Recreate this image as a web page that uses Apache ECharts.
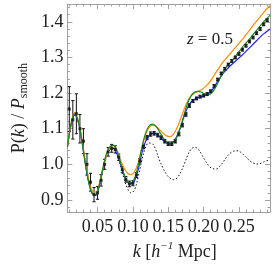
<!DOCTYPE html>
<html><head><meta charset="utf-8">
<script src="https://cdn.jsdelivr.net/npm/echarts@6/dist/echarts.min.js"></script>
<style>html,body{margin:0;padding:0;background:#fff}#c{width:274px;height:268px}</style>
</head><body><div id="c"></div>
<script>
// ---- data ----
const curveK = [0.0075,0.0125,0.0175,0.0225,0.0275,0.0325,0.0375,0.0425,0.0475,0.0525,0.0575,0.0625,0.0675,0.0725,0.0775,0.0825,0.0875,0.0925,0.0975,0.1025,0.1075,0.1125,0.1175,0.1225,0.1275,0.1325,0.1375,0.1425,0.1475,0.1525,0.1575,0.1625,0.1675,0.1725,0.1775,0.1825,0.1875,0.1925,0.1975,0.2025,0.2075,0.2125,0.2175,0.2225,0.2275,0.2325,0.2375,0.2425,0.2475,0.2525,0.2575,0.2625,0.2675,0.2725,0.2775,0.2825,0.2875,0.294];
const blueV = [1.05,1.11,1.138,1.12,1.07,1.005,0.95,0.918,0.913,0.94,0.985,1.025,1.043,1.045,1.03,1.0,0.97,0.95,0.945,0.955,0.985,1.03,1.062,1.08,1.087,1.086,1.078,1.068,1.06,1.057,1.063,1.08,1.105,1.135,1.16,1.175,1.183,1.187,1.19,1.194,1.2,1.21,1.225,1.24,1.255,1.266,1.276,1.285,1.294,1.303,1.312,1.322,1.332,1.342,1.352,1.362,1.37,1.38];
const greenV = [1.05,1.115,1.142,1.122,1.07,1.005,0.95,0.918,0.915,0.943,0.99,1.03,1.05,1.053,1.038,1.005,0.972,0.952,0.948,0.962,0.997,1.045,1.085,1.107,1.113,1.107,1.092,1.075,1.063,1.058,1.062,1.078,1.105,1.14,1.172,1.193,1.203,1.205,1.202,1.197,1.196,1.203,1.218,1.238,1.26,1.275,1.285,1.297,1.31,1.322,1.335,1.346,1.358,1.37,1.382,1.394,1.405,1.418];
const orangeV = [1.05,1.115,1.145,1.125,1.075,1.01,0.957,0.925,0.922,0.945,0.988,1.025,1.045,1.048,1.037,1.012,0.99,0.975,0.971,0.98,1.005,1.045,1.08,1.102,1.11,1.107,1.098,1.088,1.08,1.078,1.085,1.103,1.128,1.155,1.178,1.193,1.2,1.205,1.21,1.218,1.228,1.242,1.258,1.273,1.287,1.299,1.31,1.322,1.333,1.345,1.357,1.37,1.383,1.396,1.408,1.42,1.432,1.445];
const dottedV = [1.05,1.11,1.138,1.12,1.07,1.005,0.95,0.918,0.913,0.94,0.985,1.025,1.043,1.043,1.025,0.995,0.96,0.932,0.92,0.93,0.965,1.01,1.045,1.06,1.058,1.04,1.012,0.99,0.972,0.961,0.957,0.962,0.978,1.0,1.025,1.043,1.048,1.042,1.027,1.01,0.996,0.988,0.987,0.994,1.006,1.02,1.031,1.037,1.038,1.034,1.025,1.015,1.007,1.002,1.001,1.004,1.009,1.012];
const dataK = [0.01,0.015,0.02,0.025,0.03,0.035,0.04,0.045,0.05,0.055,0.06,0.065,0.07,0.075,0.08,0.085,0.09,0.095,0.1,0.105,0.11,0.115,0.12,0.125,0.13,0.135,0.14,0.145,0.15,0.155,0.16,0.165,0.17,0.175,0.18,0.185,0.19,0.195,0.2,0.205,0.21,0.215,0.22,0.225,0.23,0.235,0.24,0.245,0.25,0.255,0.26,0.265,0.27,0.275,0.28,0.285,0.29];
const dataV = [1.155,1.125,1.142,1.1,1.065,1.0,0.95,0.915,0.92,0.955,1.0,1.035,1.045,1.042,1.02,0.985,0.958,0.945,0.947,0.97,1.01,1.05,1.075,1.085,1.087,1.082,1.075,1.065,1.058,1.058,1.065,1.085,1.11,1.14,1.165,1.178,1.185,1.19,1.193,1.197,1.205,1.22,1.238,1.255,1.268,1.28,1.29,1.3,1.31,1.322,1.333,1.345,1.356,1.368,1.38,1.393,1.405];
const dataErr = [0.063,0.054,0.056,0.04,0.035,0.03,0.025,0.02,0.018,0.016,0.014,0.012,0.011,0.01,0.009,0.009,0.008,0.008,0.007,0.007,0.006,0.006,0.006,0.006,0.005,0.005,0.005,0.005,0.005,0.005,0.005,0.005,0.005,0.005,0.005,0.004,0.004,0.004,0.004,0.004,0.004,0.004,0.004,0.004,0.004,0.004,0.004,0.004,0.004,0.004,0.004,0.004,0.004,0.004,0.004,0.004,0.004];
const xMajor = [0.05,0.10,0.15,0.20,0.25];
const xMinor = [0.01,0.02,0.03,0.04,0.06,0.07,0.08,0.09,0.11,0.12,0.13,0.14,0.16,0.17,0.18,0.19,0.21,0.22,0.23,0.24,0.26,0.27,0.28,0.29];
const yMajor = [0.9,1.0,1.1,1.2,1.3,1.4];
const yMinor = [0.88,0.92,0.94,0.96,0.98,1.02,1.04,1.06,1.08,1.12,1.14,1.16,1.18,1.22,1.24,1.26,1.28,1.32,1.34,1.36,1.38,1.42,1.44];
const xRange = [0.0073, 0.294];
const yRange = [0.866, 1.45];

// ---- chart ----
const FONT = 'Liberation Serif';
const FRAME = '#a0a0a0';
const pairs = (ks, vs) => ks.map((k, i) => [k, vs[i]]);
function xAx(pos, vals, len, labels, line) {
  return {type:'value', min:xRange[0], max:xRange[1], position:pos, gridIndex:0,
    axisLine:{show:line, onZero:false, lineStyle:{color:FRAME, width:1}},
    axisTick:{show:true, inside:true, length:len, customValues:vals, lineStyle:{color:FRAME, width:1}},
    axisLabel:{show:labels, customValues:vals, margin:6, fontFamily:FONT, fontSize:18, color:'#222',
      formatter:v=>v.toFixed(2)},
    splitLine:{show:false}};
}
function yAx(pos, vals, len, labels, line) {
  return {type:'value', min:yRange[0], max:yRange[1], position:pos, gridIndex:0,
    axisLine:{show:line, onZero:false, lineStyle:{color:FRAME, width:1}},
    axisTick:{show:true, inside:true, length:len, customValues:vals, lineStyle:{color:FRAME, width:1}},
    axisLabel:{show:labels, customValues:vals, margin:4, fontFamily:FONT, fontSize:18, color:'#222',
      formatter:v=>v.toFixed(1)},
    splitLine:{show:false}};
}
const xAxes = [xAx('bottom', xMajor, 5, true, true), xAx('bottom', xMinor, 2.5, false, false),
               xAx('top', xMajor, 5, false, true), xAx('top', xMinor, 2.5, false, false)];
const yAxes = [yAx('left', yMajor, 5, true, true), yAx('left', yMinor, 2.5, false, false),
               yAx('right', yMajor, 5, false, true), yAx('right', yMinor, 2.5, false, false)];
xAxes[0].name = '{i|k} [{i|h}{sup|−1} Mpc]';
xAxes[0].nameLocation = 'middle';
xAxes[0].nameGap = 24;
xAxes[0].nameTextStyle = {fontFamily:FONT, fontSize:18, color:'#222', lineHeight:22, padding:[0,0,0,12],
  rich:{i:{fontFamily:FONT, fontSize:18, fontStyle:'italic', color:'#222', lineHeight:22},
        sup:{fontFamily:FONT, fontSize:11, fontStyle:'italic', color:'#222', verticalAlign:'top', lineHeight:12}}};
yAxes[0].name = 'P({i|k}) / {i|P}{sub|smooth}';
yAxes[0].nameLocation = 'middle';
yAxes[0].nameRotate = 90;
yAxes[0].nameGap = 27;
yAxes[0].nameTextStyle = {fontFamily:FONT, fontSize:18, color:'#222', lineHeight:22,
  rich:{i:{fontFamily:FONT, fontSize:18, fontStyle:'italic', color:'#222', lineHeight:22},
        sub:{fontFamily:FONT, fontSize:12, color:'#222', verticalAlign:'bottom', lineHeight:12}}};

const lineS = (name, vals, color, extra) => Object.assign({
  name, type:'line', xAxisIndex:0, yAxisIndex:0, data:pairs(curveK, vals), smooth:0.4,
  showSymbol:false, symbol:'none', lineStyle:{color, width:1.2}, clip:true, animation:false}, extra||{});

const errData = dataK.map((k, i) => [k, dataV[i]-dataErr[i], dataV[i]+dataErr[i]]);

const option = {
  animation:false,
  grid:{left:51.5, right:4, top:4, bottom:48, containLabel:false},
  title:{text:'{i|z} = 0.5', left:182, top:26,
    textStyle:{fontFamily:FONT, fontSize:17, fontWeight:'normal', color:'#222',
      rich:{i:{fontFamily:FONT, fontSize:17, fontStyle:'italic', color:'#222'}}}},
  xAxis:xAxes, yAxis:yAxes,
  series:[
    lineS('linear', dottedV, '#111', {lineStyle:{color:'#111', width:1, type:[1.5,2]}}),
    {name:'errors', type:'custom', xAxisIndex:0, yAxisIndex:0, data:errData, clip:true,
     renderItem:(params, api) => {
       const k = api.value(0);
       const a = api.coord([k, api.value(1)]), b = api.coord([k, api.value(2)]);
       const w = 1.6, st = {stroke:'#111', lineWidth:1};
       return {type:'group', children:[
         {type:'line', shape:{x1:a[0], y1:a[1], x2:b[0], y2:b[1]}, style:st},
         {type:'line', shape:{x1:a[0]-w, y1:a[1], x2:a[0]+w, y2:a[1]}, style:st},
         {type:'line', shape:{x1:b[0]-w, y1:b[1], x2:b[0]+w, y2:b[1]}, style:st}]};
     }},
    lineS('blue', blueV, '#1f1fff'),
    lineS('orange', orangeV, '#ff8a00'),
    lineS('green', greenV, '#1a8a1a'),
    {name:'data', type:'scatter', xAxisIndex:0, yAxisIndex:0, data:pairs(dataK, dataV),
     symbol:'rect', symbolSize:3, itemStyle:{color:'#111'}, z:5}
  ]
};
const chart = echarts.init(document.getElementById('c'), null, {renderer:'canvas'});
chart.setOption(option);
</script></body></html>
